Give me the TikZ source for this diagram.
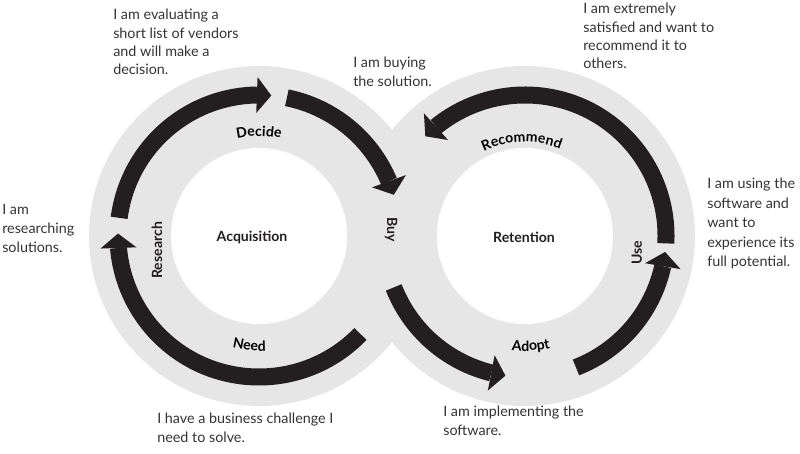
\documentclass[tikz,border=0pt]{standalone}
\usepackage{fontspec}
\setmainfont{Lato}
\usetikzlibrary{arrows.meta,bending,calc,decorations.text}
\definecolor{ringc}{HTML}{E6E6E7}
\definecolor{arrowc}{HTML}{231F20}
\definecolor{textc}{HTML}{333333}
\newcommand\lblstyle{\fontsize{10}{12}\selectfont\bfseries}
\begin{document}
\begin{tikzpicture}[x=0.025cm, y=0.025cm,
  flow/.style={draw=arrowc, line width=0.425cm, -{Triangle[width=0.9cm,length=0.36cm,line width=0pt 0]}},
  body/.style={anchor=north west, inner sep=0pt, align=left, text=textc, font=\fontsize{10.2}{13}\selectfont},
  lbl/.style={text=arrowc, font=\lblstyle, inner sep=0pt},
  curved/.style={decorate, decoration={text along path, text align=center, text={|\lblstyle|#1}}}
]
\useasboundingbox (0,0) rectangle (800,453);
\coordinate (L) at (259,217);
\coordinate (R) at (525,217);
% rings
\fill[ringc] (L) circle[radius=170];
\fill[ringc] (R) circle[radius=170];
\fill[white] (L) circle[radius=88];
\fill[white] (R) circle[radius=88];
% arrows, left ring
\draw[flow] ($(L)+(-44:141)$) arc[start angle=-44, end angle=-181, radius=141];
\draw[flow] ($(L)+(172.6:141)$) arc[start angle=172.6, end angle=85, radius=141];
\draw[flow] ($(L)+(78.6:141)$) arc[start angle=78.6, end angle=17, radius=141];
% arrows, right ring
\draw[flow] ($(R)+(201.4:141)$) arc[start angle=201.4, end angle=262, radius=141];
\draw[flow] ($(R)+(-68.8:141)$) arc[start angle=-68.8, end angle=-6.5, radius=141];
\draw[flow] ($(R)+(-3:141)$) arc[start angle=-3, end angle=135, radius=141];
% curved labels
\path[curved=Decide] ($(L)+(130:100)$) arc[start angle=130, end angle=50, radius=100];
\path[curved=Need] ($(L)+(-135:115)$) arc[start angle=-135, end angle=-55, radius=115];
\path[curved=Recommend] ($(R)+(142:94)$) arc[start angle=142, end angle=42, radius=94];
\path[curved=Adopt] ($(R)+(-127:115)$) arc[start angle=-127, end angle=-47, radius=115];
% side labels
\node[lbl, rotate=90] (research) at ($(L)+(188:103)$) {Research};
\node[lbl, rotate=90] (use) at ($(R)+(-8.5:113)$) {Use};
% centre labels
\node[lbl] (acq) at (252,216) {Acquisition};
\node[lbl] (ret) at (524,216) {Retention};
\node[lbl, rotate=-90] (buy) at (391,223) {Buy};
% descriptions
\node[body] (t1) at (113,444) {I am evaluating a\\short list of vendors\\and will make a\\decision.};
\node[body] (t2) at (353,396) {I am buying\\the solution.};
\node[body] (t3) at (583,450) {I am extremely\\satisfied and want to\\recommend it to\\others.};
\node[body, font=\fontsize{10.2}{13.6}\selectfont] (t4) at (2,249) {I am\\researching\\solutions.};
\node[body, font=\fontsize{10.2}{13.8}\selectfont] (t5) at (707,275) {I am using the\\software and\\want to\\experience its\\full potential.};
\node[body] (t6) at (157,40) {I have a business challenge I\\need to solve.};
\node[body] (t7) at (443,47) {I am implementing the\\software.};
\end{tikzpicture}
\end{document}
